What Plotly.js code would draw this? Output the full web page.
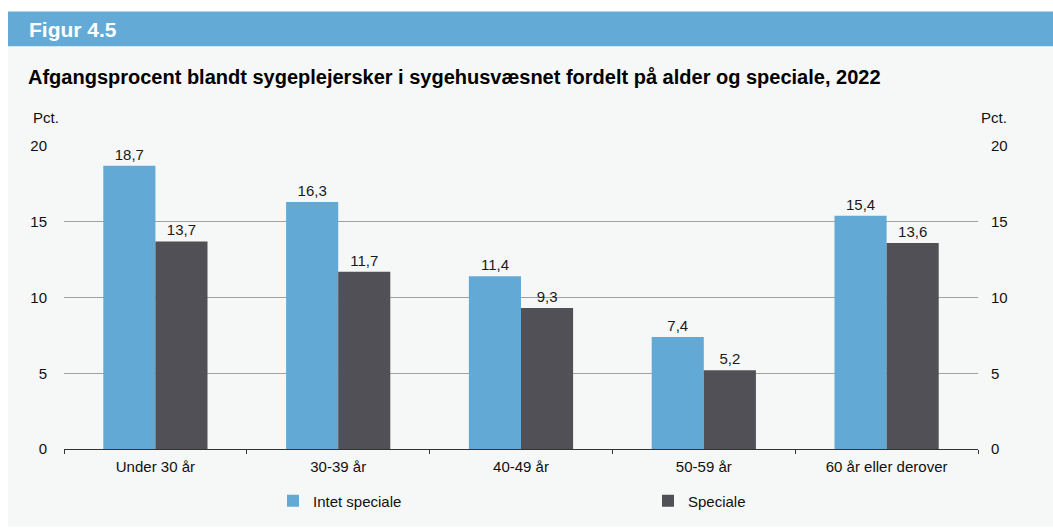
<!DOCTYPE html>
<html>
<head>
<meta charset="utf-8">
<script src="https://cdn.plot.ly/plotly-3.0.1.min.js"></script>
<style>html,body{margin:0;padding:0;background:#fff;}#chart{width:1053px;height:528px;}</style>
</head>
<body>
<div id="chart"></div>
<script>
var categories = ["Under 30 år", "30-39 år", "40-49 år", "50-59 år", "60 år eller derover"];
var intetSpeciale = [18.7, 16.3, 11.4, 7.4, 15.4];
var speciale = [13.7, 11.7, 9.3, 5.2, 13.6];
var seriesNames = ["Intet speciale", "Speciale"];
var yTicks = [0, 5, 10, 15, 20];

var FONT = "Liberation Sans, Arial, Helvetica, sans-serif";
var blue = "#63a9d5";
var dark = "#505056";

// plot area in pixels: x 64..978, y 146..450
function px(x) { return (x - 64) / 914; }
function py(y) { return (450 - y) / 304; }

var traces = [
  {
    type: "bar", name: seriesNames[0], x: categories, y: intetSpeciale,
    marker: {color: blue},
    texttemplate: "%{y:.1f}", textposition: "outside", cliponaxis: false,
    textfont: {family: FONT, size: 15, color: "#1a1a1a"}
  },
  {
    type: "bar", name: seriesNames[1], x: categories, y: speciale,
    marker: {color: dark},
    texttemplate: "%{y:.1f}", textposition: "outside", cliponaxis: false,
    textfont: {family: FONT, size: 15, color: "#1a1a1a"}
  },
  {
    type: "bar", x: categories, y: [0,0,0,0,0], yaxis: "y2", showlegend: false,
    hoverinfo: "skip", marker: {color: "rgba(0,0,0,0)"}
  }
];

var layout = {
  width: 1053, height: 528,
  margin: {l: 64, r: 75, t: 146, b: 78},
  paper_bgcolor: "#ffffff",
  plot_bgcolor: "rgba(0,0,0,0)",
  separators: ",.",
  font: {family: FONT, size: 15, color: "#111"},
  barmode: "group",
  bargap: 0.43,
  bargroupgap: 0,
  showlegend: true,
  legend: {
    orientation: "h", x: px(273), xanchor: "left", y: py(501), yanchor: "middle",
    entrywidth: 330, entrywidthmode: "pixels", itemwidth: 30,
    font: {family: FONT, size: 15, color: "#111"},
    bgcolor: "rgba(0,0,0,0)", traceorder: "normal"
  },
  xaxis: {
    type: "category",
    showline: true, linecolor: "#333", linewidth: 1,
    ticks: "outside", tickson: "boundaries", ticklen: 4, tickcolor: "#333",
    ticklabelstandoff: 4,
    showgrid: false, zeroline: false,
    tickfont: {family: FONT, size: 15, color: "#111"}
  },
  yaxis: {
    range: [0, 20], tickvals: yTicks, ticktext: yTicks.map(String),
    showgrid: true, gridcolor: "#a0a0a0", gridwidth: 1,
    zeroline: false, showline: false,
    ticks: "outside", ticklen: 13, tickcolor: "rgba(0,0,0,0)",
    tickfont: {family: FONT, size: 15, color: "#111"}
  },
  yaxis2: {
    range: [0, 20], tickvals: yTicks, ticktext: yTicks.map(String),
    overlaying: "y", side: "right",
    showgrid: false, zeroline: false, showline: false,
    ticks: "outside", ticklen: 9, tickcolor: "rgba(0,0,0,0)",
    tickfont: {family: FONT, size: 15, color: "#111"}
  },
  shapes: [
    {type: "rect", xref: "paper", yref: "paper", x0: px(8), x1: px(1060), y0: py(528), y1: py(46),
     fillcolor: "#f6f7f7", line: {width: 0}, layer: "below"},
    {type: "rect", xref: "paper", yref: "paper", x0: px(8), x1: px(1060), y0: py(46), y1: py(11),
     fillcolor: "#64aad6", line: {width: 0}, layer: "below"}
  ],
  annotations: [
    {text: "<b>Figur 4.5</b>", xref: "paper", yref: "paper", x: px(27), y: py(29),
     xanchor: "left", yanchor: "middle", showarrow: false,
     font: {family: FONT, size: 21, color: "#ffffff"}},
    {text: "<b>Afgangsprocent blandt sygeplejersker i sygehusvæsnet fordelt på alder og speciale, 2022</b>",
     xref: "paper", yref: "paper", x: px(26), y: py(77),
     xanchor: "left", yanchor: "middle", showarrow: false,
     font: {family: FONT, size: 20, color: "#000"}},
    {text: "Pct.", xref: "paper", yref: "paper", x: px(31), y: py(117),
     xanchor: "left", yanchor: "middle", showarrow: false,
     font: {family: FONT, size: 15, color: "#111"}},
    {text: "Pct.", xref: "paper", yref: "paper", x: px(979), y: py(117),
     xanchor: "left", yanchor: "middle", showarrow: false,
     font: {family: FONT, size: 15, color: "#111"}}
  ]
};

Plotly.newPlot("chart", traces, layout, {displayModeBar: false, staticPlot: true});
</script>
</body>
</html>
